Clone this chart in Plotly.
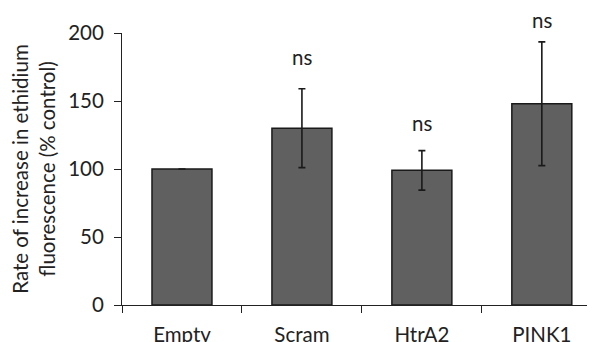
import plotly.graph_objects as go

categories = ["Empty", "Scram", "HtrA2", "PINK1"]
means = [100, 130, 99, 148]
errors = [float("nan"), 29, 14.5, 45.5]
sig_labels = ["", "ns", "ns", "ns"]
y_ticks = [0, 50, 100, 150, 200]

FONT = dict(family="Lato", size=20.5, color="#222222")

fig = go.Figure()
fig.add_trace(go.Bar(
    x=categories, y=means, width=0.5,
    marker=dict(color="#606060", line=dict(color="#1a1a1a", width=1.5)),
    error_y=dict(type="data", array=errors, visible=True, color="#1a1a1a", thickness=1.6, width=3.5),
))

shifts = [0, 32, 28, 22]
for c, m, e, lab, s in zip(categories, means, errors, sig_labels, shifts):
    if lab:
        fig.add_annotation(x=c, y=m + e, text=lab, showarrow=False,
                           yanchor="middle", yshift=s, font=FONT)

# page has an 8px body margin: compensate so the plot area lands where the reference has it
fig.update_layout(
    width=595, height=342,
    margin=dict(l=114, r=0, t=25, b=45),
    plot_bgcolor="white", paper_bgcolor="white",
    showlegend=False, font=FONT,
    xaxis=dict(range=[-0.5, 3.51], showline=True, linecolor="#222", linewidth=1.2,
               ticks="outside", tickson="boundaries", ticklen=7, tickcolor="#222",
               tickwidth=1.2, showgrid=False, ticklabelstandoff=11, tickfont=FONT),
    yaxis=dict(range=[0, 200], tickvals=y_ticks, showline=True, linecolor="#222",
               linewidth=1.2, ticks="outside", ticklen=7, tickcolor="#222", tickwidth=1.2,
               showgrid=False, zeroline=False, tickfont=FONT, ticklabelstandoff=6,
               title=dict(text="Rate of increase in ethidium<br>fluorescence (% control)",
                          font=FONT, standoff=8)),
)

fig.write_html("out.html")
